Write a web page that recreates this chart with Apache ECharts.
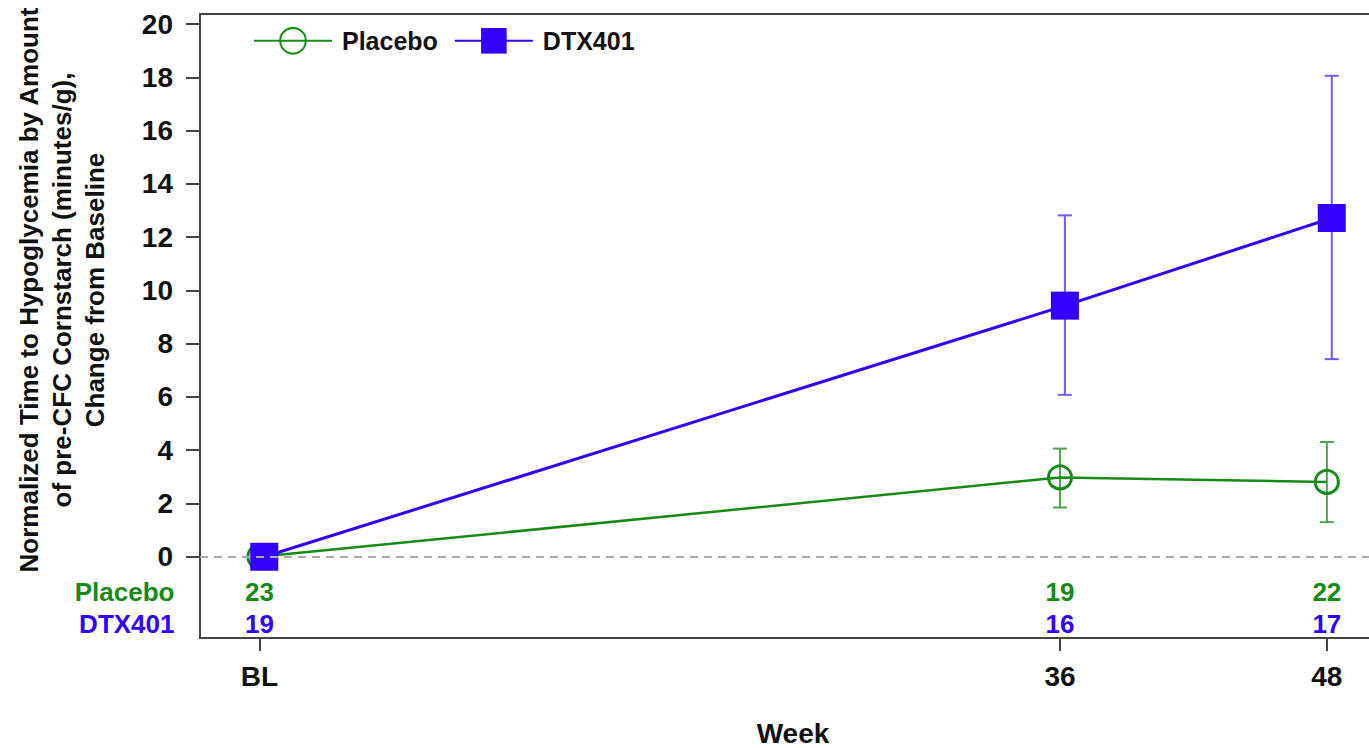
<!DOCTYPE html>
<html>
<head>
<meta charset="utf-8">
<script src="https://cdn.jsdelivr.net/npm/echarts@6/dist/echarts.min.js"></script>
<style>
  html, body { margin: 0; padding: 0; background: #fff; overflow: hidden; }
  #chart { width: 1369px; height: 748px; }
</style>
</head>
<body>
<div id="chart"></div>
<script>
(function() {
  var weeks = [0, 36, 48];
  var weekLabels = ['BL', '36', '48'];
  var yTicks = [0, 2, 4, 6, 8, 10, 12, 14, 16, 18, 20];

  var placeboMean = [0, 2.98, 2.81];
  var placeboLow = [null, 1.85, 1.30];
  var placeboHigh = [null, 4.06, 4.31];

  var dtxMean = [0, 9.43, 12.72];
  var dtxLow = [null, 6.08, 7.42];
  var dtxHigh = [null, 12.82, 18.06];

  var nPlacebo = [23, 19, 22];
  var nDtx = [19, 16, 17];

  // small horizontal dodge of the DTX401 points, as in the source figure
  var dtxOffset = 0.22;
  var rowPlacebo = -1.31, rowDtx = -2.52;
  var xMin = -2.67, xMax = 50.03;

  var green = '#178a17', blue = '#3300ff';
  var greenBar = '#4ea34e', blueBar = '#6a5cff';
  var font = '"Liberation Sans", Arial, sans-serif';

  function pts(off, vals) {
    return weeks.map(function(w, i) { return [w + off, vals[i]]; });
  }
  function bars(off, lo, hi) {
    var out = [];
    weeks.forEach(function(w, i) {
      if (lo[i] != null) out.push([w + off, lo[i], hi[i]]);
    });
    return out;
  }
  function errorBar(color) {
    return function(params, api) {
      var x = api.value(0);
      var top = api.coord([x, api.value(2)]);
      var bot = api.coord([x, api.value(1)]);
      var s = { stroke: color, lineWidth: 2 };
      return {
        type: 'group',
        children: [
          { type: 'line', shape: { x1: top[0], y1: top[1], x2: bot[0], y2: bot[1] }, style: s },
          { type: 'line', shape: { x1: top[0] - 7, y1: top[1], x2: top[0] + 7, y2: top[1] }, style: s },
          { type: 'line', shape: { x1: bot[0] - 7, y1: bot[1], x2: bot[0] + 7, y2: bot[1] }, style: s }
        ]
      };
    };
  }
  function countRow(name, counts, rowY, color) {
    var data = weeks.map(function(w, i) { return { value: [w, rowY], label: { formatter: String(counts[i]) } }; });
    data.push({ value: [xMin, rowY], label: { position: 'left', distance: 25, formatter: name } });
    return {
      type: 'scatter', silent: true, clip: false, symbolSize: 1,
      itemStyle: { color: 'rgba(0,0,0,0)', opacity: 1 },
      label: {
        show: true, position: 'inside', color: color, opacity: 1, textBorderWidth: 0,
        fontFamily: font, fontWeight: 'bold', fontSize: 26
      },
      data: data, z: 5
    };
  }

  var chart = echarts.init(document.getElementById('chart'), null, { renderer: 'svg' });
  chart.setOption({
    animation: false,
    grid: {
      left: 200, width: 1172, top: 14, height: 624, outerBoundsMode: 'none', containLabel: false,
      show: true, borderColor: '#444', borderWidth: 2
    },
    legend: {
      left: 248, top: 22,
      itemWidth: 78, itemHeight: 32, itemGap: 16,
      textStyle: { color: '#111', fontFamily: font, fontWeight: 'bold', fontSize: 25, padding: [0, 0, 0, 5] },
      data: ['Placebo', 'DTX401']
    },
    xAxis: {
      type: 'value', min: xMin, max: xMax,
      axisLine: { show: true, onZero: false, lineStyle: { color: '#444', width: 2 } },
      axisTick: { show: true, length: 13, customValues: weeks, lineStyle: { color: '#444', width: 2 } },
      axisLabel: {
        customValues: weeks, margin: 24, color: '#111', fontFamily: font, fontWeight: 'bold', fontSize: 28,
        formatter: function(v) { return weekLabels[weeks.indexOf(v)]; }
      },
      splitLine: { show: false }
    },
    yAxis: {
      type: 'value', min: -3.05, max: 20.38,
      axisLine: { show: true, onZero: false, lineStyle: { color: '#444', width: 2 } },
      axisTick: { show: true, length: 14, customValues: yTicks, lineStyle: { color: '#444', width: 2 } },
      axisLabel: { customValues: yTicks, margin: 27, color: '#111', fontFamily: font, fontWeight: 'bold', fontSize: 28 },
      splitLine: { show: false }
    },
    graphic: [
      {
        type: 'text', x: 62, y: 290, rotation: Math.PI / 2,
        style: {
          text: 'Normalized Time to Hypoglycemia by Amount\nof pre-CFC Cornstarch (minutes/g),\nChange from Baseline',
          fill: '#111', font: 'bold 26px ' + font, lineHeight: 33, align: 'center', verticalAlign: 'middle'
        }
      },
      {
        type: 'text', x: 793, y: 733,
        style: { text: 'Week', fill: '#111', font: 'bold 28px ' + font, align: 'center', verticalAlign: 'middle' }
      }
    ],
    series: [
      {
        name: 'Placebo', type: 'line', data: pts(0, placeboMean), z: 3,
        symbol: 'circle', symbolSize: 23,
        lineStyle: { color: green, width: 2.5 },
        itemStyle: { color: 'rgba(0,0,0,0)', borderColor: green, borderWidth: 3 },
        markLine: {
          silent: true, symbol: 'none', label: { show: false },
          lineStyle: { color: '#aaa', type: [8, 6], width: 2 },
          data: [{ yAxis: 0 }]
        }
      },
      {
        type: 'custom', renderItem: errorBar(greenBar), data: bars(0, placeboLow, placeboHigh), z: 2, silent: true
      },
      {
        name: 'DTX401', type: 'line', data: pts(dtxOffset, dtxMean), z: 4,
        symbol: 'rect', symbolSize: 28,
        lineStyle: { color: blue, width: 3 },
        itemStyle: { color: blue }
      },
      {
        type: 'custom', renderItem: errorBar(blueBar), data: bars(dtxOffset, dtxLow, dtxHigh), z: 2, silent: true
      },
      countRow('Placebo', nPlacebo, rowPlacebo, green),
      countRow('DTX401', nDtx, rowDtx, blue)
    ]
  });
  window.addEventListener('resize', function() { chart.resize(); });
})();
</script>
</body>
</html>
